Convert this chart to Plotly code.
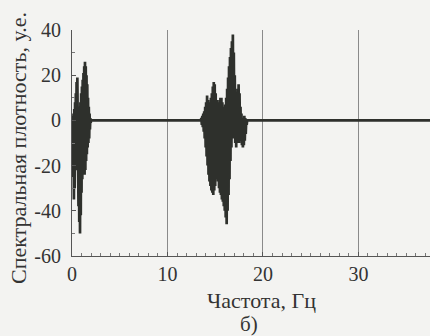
import plotly.graph_objects as go

# Region 1 (0 - 2 Hz)
f1 = [round(0.04 * i, 2) for i in range(51)]
v1 = [0, -10, 2, -25, 3, -35, 5, -30, 8, -20, 12, -15, 17, -22, 19, -28, 10, -38, 6, -45,
      4, -50, 8, -42, 12, -32, 15, -26, 18, -22, 21, -20, 24, -24, 26, -22, 24, -18, 20, -15,
      16, -12, 10, -10, 6, -8, 3, -4, 1, -1, 0]

# Region 2 (13.5 - 18.35 Hz)
f2 = [round(13.5 + 0.05 * i, 2) for i in range(98)]
v2 = [0, 1, -2, 2, -3, 3, -5, 4, -8, 6,
      -12, 8, -16, 11, -20, 9, -24, 6, -27, 8,
      -29, 10, -31, 12, -32, 15, -33, 17, -31, 16,
      -29, 12, -26, 9, -24, 7, -27, 8, -30, 9,
      -32, 10, -33, 10, -35, 8, -36, 6, -38, 5,
      -40, 7, -43, 10, -46, 14, -40, 19, -33, 24,
      -26, 28, -18, 32, -12, 35, -8, 38, -6, 30,
      -8, 20, -10, 12, -12, 10, -10, 14, -9, 16,
      -10, 12, -8, 6, -9, 3, -11, 1, -12, 0,
      -11, 2, -9, 1, -6, 0, -2, 0]

x_end = 37.5
freq = f1 + f2 + [x_end]
vals = v1 + v2 + [0]

x_ticks = [0, 10, 20, 30]
y_ticks = [-60, -40, -20, 0, 20, 40]

bg = "#f3f3f1"
ink = "#333333"
serif = "Liberation Serif"

fig = go.Figure()
fig.add_trace(go.Scatter(x=freq, y=vals, mode="lines",
                         line=dict(color="#2e302c", width=2.7), hoverinfo="skip"))

W, L, T, B = 358, 72, 30, 226  # plot width, left margin, top, plot height
def px(x):
    return (x - L) / W
def py(y):
    return (T + B - y) / B

fig.update_layout(
    width=430, height=336,
    margin=dict(l=72, r=0, t=30, b=80),
    paper_bgcolor=bg, plot_bgcolor=bg,
    showlegend=False,
    font=dict(family=serif, color=ink),
    xaxis=dict(range=[0, x_end], tickvals=x_ticks, ticktext=[str(t) for t in x_ticks],
               showgrid=True, gridcolor="#8a8a8a", gridwidth=1,
               showline=True, linecolor="#555555", linewidth=1,
               ticks="inside", ticklen=4, tickcolor="#555555",
               minor=dict(dtick=1, ticks="inside", ticklen=3, tickcolor="#777777", showgrid=False),
               tickfont=dict(size=20, family=serif, color=ink), zeroline=False),
    yaxis=dict(range=[-60, 40], tickvals=y_ticks, ticktext=[str(t) for t in y_ticks],
               showgrid=False, showline=True, linecolor="#555555", linewidth=1,
               ticks="inside", ticklen=4, tickcolor="#555555",
               minor=dict(dtick=10, ticks="inside", ticklen=3, tickcolor="#777777"),
               tickfont=dict(size=20, family=serif, color=ink), zeroline=False,
               ticklabelstandoff=6),
    annotations=[
        dict(text="Частота, Гц", xref="paper", yref="paper", x=px(261), y=py(300),
             showarrow=False, font=dict(size=22, family=serif, color=ink), xanchor="center", yanchor="middle"),
        dict(text="б)", xref="paper", yref="paper", x=px(249), y=py(324),
             showarrow=False, font=dict(size=21, family=serif, color=ink), xanchor="center", yanchor="middle"),
        dict(text="Спектральная плотность, у.е.", xref="paper", yref="paper", x=px(18),
             y=py(148), textangle=-90, showarrow=False,
             font=dict(size=22, family=serif, color=ink), xanchor="center", yanchor="middle"),
    ],
)

fig.write_html("out.html", config={"displayModeBar": False},
               post_script="document.body.style.margin='0';document.body.style.padding='0';")
